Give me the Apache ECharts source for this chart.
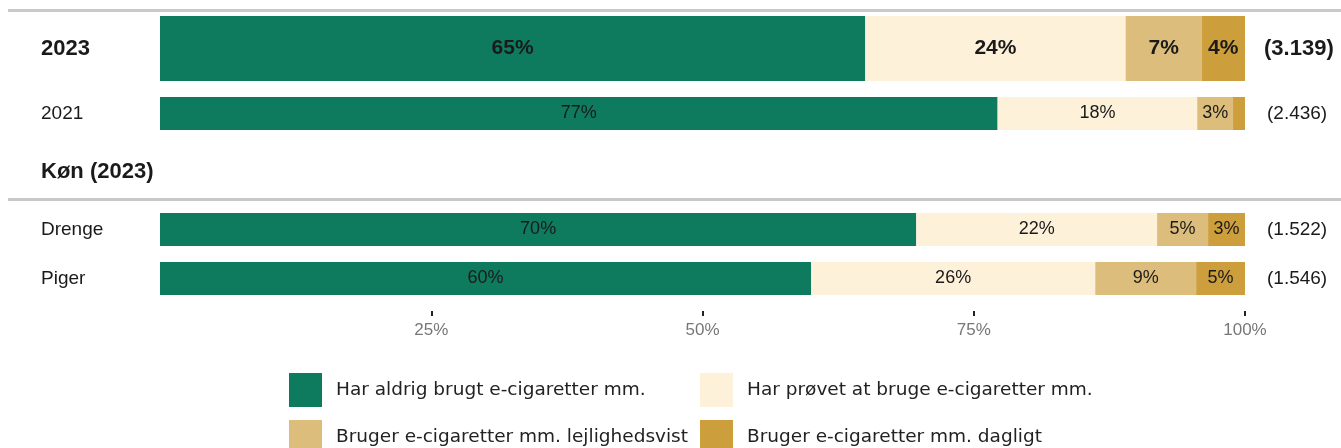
<!DOCTYPE html>
<html>
<head>
<meta charset="utf-8">
<script src="https://cdn.jsdelivr.net/npm/echarts@6/dist/echarts.min.js"></script>
<style>html,body{margin:0;padding:0;background:#fff}#main{width:1341px;height:448px}</style>
</head>
<body>
<div id="main"></div>
<script>
// rækker og antal svar
var rows = ['2023', '2021', 'Drenge', 'Piger'];
var counts = ['(3.139)', '(2.436)', '(1.522)', '(1.546)'];
var seriesNames = [
  'Har aldrig brugt e-cigaretter mm.',
  'Har prøvet at bruge e-cigaretter mm.',
  'Bruger e-cigaretter mm. lejlighedsvist',
  'Bruger e-cigaretter mm. dagligt'
];
// andele i procent, samme rækkefølge som rows
var aldrig = [65, 77.2, 69.7, 60.0];
var proevet = [24, 18.4, 22.2, 26.2];
var lejlighedsvist = [7, 3.3, 4.7, 9.3];
var dagligt = [4, 1.1, 3.4, 4.5];
var xTicks = [25, 50, 75, 100];

var colors = ['#0e7b5e', '#fdf1d9', '#dcbd7b', '#cc9e3c'];
var values = [aldrig, proevet, lejlighedsvist, dagligt];
var gridTops = [16, 97, 213, 262];
var gridHeights = [65, 33, 33, 33];
var bold = [true, false, false, false];
var font = 'Liberation Sans, Arial, sans-serif';

var chart = echarts.init(document.getElementById('main'));

var grids = [], xAxes = [], yAxes = [], series = [];
rows.forEach(function (row, i) {
  grids.push({ left: 160, right: 96, top: gridTops[i], height: gridHeights[i] });
  var last = i === rows.length - 1;
  xAxes.push({
    gridIndex: i, type: 'value', min: 0, max: 100, interval: 25,
    show: last, offset: 16,
    axisLine: { show: false },
    splitLine: { show: false },
    axisTick: { show: last, customValues: xTicks, length: 5, lineStyle: { color: '#222', width: 2 } },
    axisLabel: { show: last, customValues: xTicks, formatter: '{value}%', color: '#777', fontSize: 17, margin: 11, fontFamily: font }
  });
  yAxes.push({
    gridIndex: i, type: 'category', data: [row],
    axisLine: { show: false }, axisTick: { show: false },
    axisLabel: { align: 'left', margin: 119, color: '#1a1a1a', fontSize: bold[i] ? 22 : 19, fontWeight: bold[i] ? 'bold' : 'normal', fontFamily: font }
  });
  yAxes.push({
    gridIndex: i, type: 'category', position: 'right', data: [counts[i]],
    axisLine: { show: false }, axisTick: { show: false },
    axisLabel: { align: 'left', margin: bold[i] ? 19 : 22, color: '#1a1a1a', fontSize: bold[i] ? 22 : 19, fontWeight: bold[i] ? 'bold' : 'normal', fontFamily: font }
  });
  values.forEach(function (vals, k) {
    series.push({
      name: seriesNames[k], type: 'bar', stack: 'g' + i,
      xAxisIndex: i, yAxisIndex: i * 2,
      barWidth: '100%',
      itemStyle: { color: colors[k] },
      data: [vals[i]],
      label: {
        show: true, position: 'inside',
        formatter: function (p) { return p.value < 2 ? '' : Math.round(p.value) + '%'; },
        color: '#1a1a1a', fontSize: bold[i] ? 21 : 18, fontWeight: bold[i] ? 'bold' : 'normal', fontFamily: font
      }
    });
  });
});

var legendPos = [[289, 373], [700, 373], [289, 420], [700, 420]];
var legends = seriesNames.map(function (name, k) {
  return {
    data: [name], left: legendPos[k][0], top: legendPos[k][1], padding: 0,
    icon: 'rect', itemWidth: 33, itemHeight: 34,
    textStyle: { fontFamily: 'DejaVu Sans', fontSize: 18.5, color: '#222', padding: [0, 0, 0, 9] }
  };
});

var option = {
  animation: false,
  color: colors,
  grid: grids,
  xAxis: xAxes,
  yAxis: yAxes,
  legend: legends,
  series: series,
  graphic: [
    { type: 'rect', shape: { x: 8, y: 9, width: 1333, height: 3 }, style: { fill: '#c9c9c9' } },
    { type: 'rect', shape: { x: 8, y: 198, width: 1333, height: 3 }, style: { fill: '#c9c9c9' } },
    { type: 'text', left: 41, top: 161, style: { text: 'Køn (2023)', font: 'bold 22px Liberation Sans, Arial, sans-serif', fill: '#1a1a1a' } }
  ]
};
chart.setOption(option);
</script>
</body>
</html>
